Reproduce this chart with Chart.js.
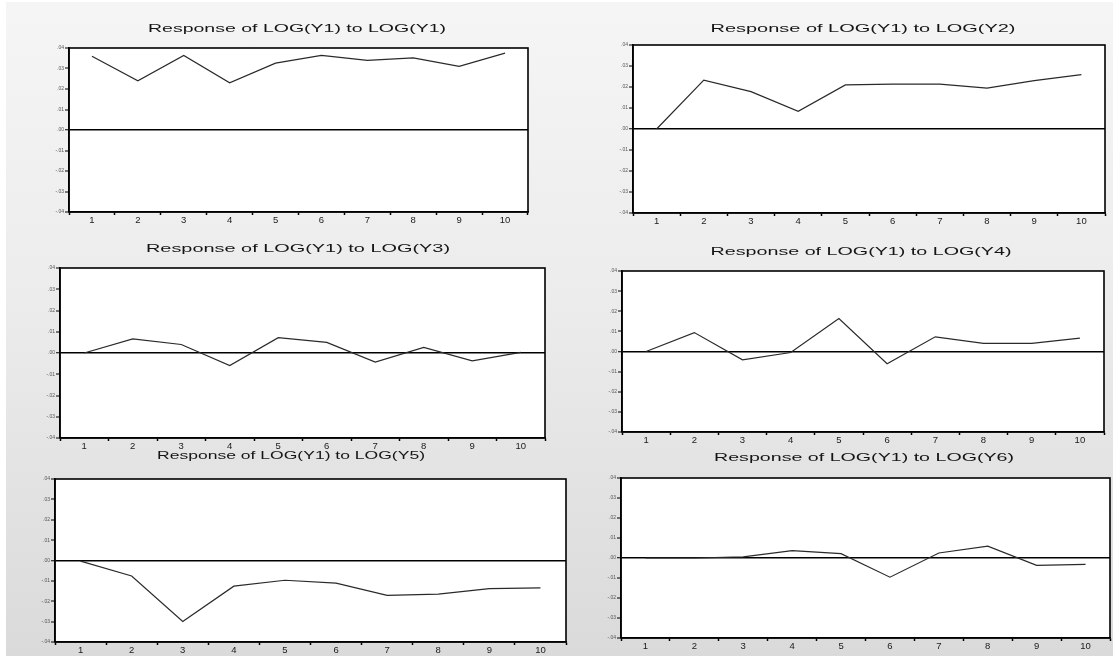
<!DOCTYPE html>
<html>
<head>
<meta charset="utf-8">
<script src="https://cdn.jsdelivr.net/npm/chart.js@4/dist/chart.umd.min.js"></script>
<style>
  html, body { margin: 0; padding: 0; background: #ffffff; }
  body { width: 1113px; height: 657px; position: relative; overflow: hidden; }
  #bg { position: absolute; left: 6px; top: 2px; right: 0; bottom: 1px;
        background: linear-gradient(to bottom, #f5f5f5 0%, #ececec 45%, #dadada 100%); }
  .panel { position: absolute; }
  .panel canvas { display: block; }
</style>
</head>
<body>
<div id="bg"></div>

<script>
// ---------------- DATA ----------------
const categories = ['1', '2', '3', '4', '5', '6', '7', '8', '9', '10'];
const yTickLabels = ['-.04', '-.03', '-.02', '-.01', '.00', '.01', '.02', '.03', '.04'];

const titles = [
  'Response of LOG(Y1) to LOG(Y1)',
  'Response of LOG(Y1) to LOG(Y2)',
  'Response of LOG(Y1) to LOG(Y3)',
  'Response of LOG(Y1) to LOG(Y4)',
  'Response of LOG(Y1) to LOG(Y5)',
  'Response of LOG(Y1) to LOG(Y6)'
];

const respY1 = [0.0360, 0.0240, 0.0364, 0.0230, 0.0326, 0.0364, 0.0340, 0.0352, 0.0310, 0.0375];
const respY2 = [0.0000, 0.0233, 0.0178, 0.0084, 0.0210, 0.0214, 0.0214, 0.0195, 0.0230, 0.0259];
const respY3 = [0.0000, 0.0066, 0.0040, -0.0059, 0.0072, 0.0050, -0.0043, 0.0026, -0.0037, 0.0003];
const respY4 = [0.0000, 0.0094, -0.0041, -0.0005, 0.0164, -0.0061, 0.0073, 0.0040, 0.0040, 0.0066];
const respY5 = [-0.0003, -0.0076, -0.0299, -0.0126, -0.0097, -0.0111, -0.0171, -0.0165, -0.0138, -0.0134];
const respY6 = [0.0000, 0.0000, 0.0006, 0.0037, 0.0022, -0.0096, 0.0025, 0.0059, -0.0037, -0.0032];

const seriesList = [respY1, respY2, respY3, respY4, respY5, respY6];

// ---------------- LAYOUT (plot boxes in page pixels) ----------------
const boxes = [
  { L: 69,  T: 48,  R: 528,  B: 212, tx: 297, ty: 29,  tw: 298 },
  { L: 633, T: 45,  R: 1105, B: 213, tx: 863, ty: 29,  tw: 305 },
  { L: 60,  T: 268, R: 545,  B: 438, tx: 298, ty: 249, tw: 304 },
  { L: 622, T: 271, R: 1104, B: 432, tx: 861, ty: 252, tw: 301 },
  { L: 55,  T: 479, R: 566,  B: 642, tx: 291, ty: 456, tw: 268 },
  { L: 621, T: 478, R: 1110, B: 638, tx: 864, ty: 458, tw: 300 }
];

const PADL = 35, PADT = 35, PADR = 4, PADB = 18;

const stretchTitle = {
  id: 'stretchTitle',
  afterDraw(chart, args, opts) {
    const ctx = chart.ctx;
    ctx.save();
    ctx.font = '11.5px "Liberation Sans", Arial, sans-serif';
    const w = ctx.measureText(opts.text).width;
    ctx.translate(opts.x, opts.y);
    ctx.scale(opts.width / w, 1);
    ctx.fillStyle = '#151515';
    ctx.textAlign = 'center';
    ctx.textBaseline = 'middle';
    ctx.fillText(opts.text, 0, 0);
    ctx.restore();
  }
};

const boxFrame = {
  id: 'boxFrame',
  beforeDraw(chart) {
    const a = chart.chartArea, ctx = chart.ctx;
    ctx.save();
    ctx.fillStyle = '#ffffff';
    ctx.fillRect(a.left, a.top, a.right - a.left, a.bottom - a.top);
    ctx.restore();
  },
  afterDatasetsDraw(chart) {
    const a = chart.chartArea, ctx = chart.ctx;
    ctx.save();
    ctx.strokeStyle = '#000';
    ctx.lineWidth = 1.6;
    ctx.strokeRect(a.left, a.top, a.right - a.left, a.bottom - a.top);
    ctx.restore();
  }
};

const fmtTick = (v, i) => yTickLabels[i];

seriesList.forEach((series, k) => {
  const b = boxes[k];
  const left = b.L - PADL, top = b.T - PADT;
  const W = (b.R - b.L) + PADL + PADR;
  const H = (b.B - b.T) + PADT + PADB;
  const div = document.createElement('div');
  div.className = 'panel';
  div.style.left = left + 'px';
  div.style.top = top + 'px';
  div.style.width = W + 'px';
  div.style.height = H + 'px';
  const cv = document.createElement('canvas');
  div.appendChild(cv);
  document.body.appendChild(div);

  new Chart(cv, {
    type: 'line',
    data: {
      labels: categories,
      datasets: [{
        data: series,
        borderColor: '#2a2a2a',
        borderWidth: 1.2,
        pointRadius: 0,
        tension: 0,
        fill: false
      }]
    },
    plugins: [boxFrame, stretchTitle],
    options: {
      responsive: true,
      maintainAspectRatio: false,
      animation: false,
      events: [],
      layout: { padding: { left: 0, top: PADT, right: PADR, bottom: 0 } },
      plugins: {
        legend: { display: false },
        title: { display: false },
        tooltip: { enabled: false },
        stretchTitle: { text: titles[k], x: b.tx - left, y: b.ty - top, width: b.tw }
      },
      scales: {
        x: {
          type: 'category',
          offset: true,
          afterFit: s => { s.height = PADB; },
          grid: { offset: true, drawOnChartArea: false, drawTicks: true, tickLength: 3, tickColor: '#000', tickWidth: 1.5 },
          border: { display: true, color: '#000', width: 1.6 },
          ticks: {
            color: '#1a1a1a',
            font: { family: '"Liberation Sans", Arial, sans-serif', size: 9.5 },
            padding: 0,
            maxRotation: 0,
            autoSkip: false
          }
        },
        y: {
          min: -0.04,
          max: 0.04,
          afterFit: s => { s.width = PADL; },
          afterBuildTicks: s => { s.ticks = yTickLabels.map((t, i) => ({ value: -0.04 + i * 0.01 })); },
          grid: {
            drawOnChartArea: true,
            drawTicks: true,
            tickLength: 4,
            tickColor: '#000',
            tickWidth: 1,
            color: c => (c.tick && Math.abs(c.tick.value) < 1e-9) ? '#000' : 'rgba(0,0,0,0)',
            lineWidth: c => (c.tick && Math.abs(c.tick.value) < 1e-9) ? 1.5 : 0
          },
          border: { display: true, color: '#000', width: 1.6 },
          ticks: {
            callback: fmtTick,
            color: '#555',
            font: { family: '"Liberation Sans", Arial, sans-serif', size: 5 },
            padding: 1
          }
        }
      }
    }
  });
});
</script>
</body>
</html>
